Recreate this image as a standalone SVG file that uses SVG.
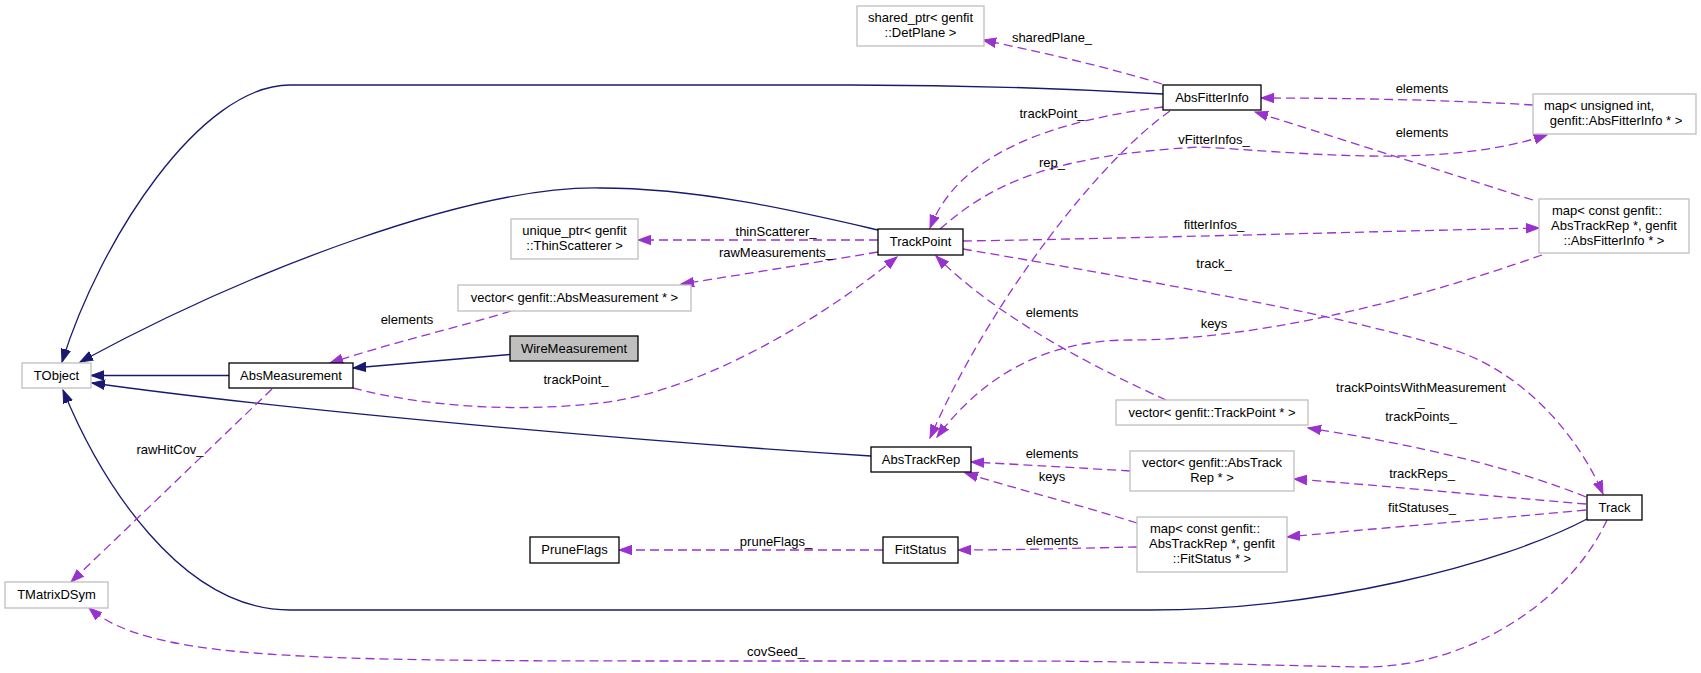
<svg xmlns="http://www.w3.org/2000/svg" width="1701" height="673" viewBox="0 0 1701 673">
<style>
text{font-family:"Liberation Sans",Arial,Helvetica,sans-serif;font-size:13px;fill:#000}
.c{text-anchor:middle}
.n{fill:#fff;stroke:#000;stroke-width:1.3}
.g{fill:#fff;stroke:#bfbfbf;stroke-width:1.3}
.s{fill:#bfbfbf;stroke:#000;stroke-width:1.3}
.inh{fill:none;stroke:#191970;stroke-width:1.3}
.use{fill:none;stroke:#9a32cd;stroke-width:1.3;stroke-dasharray:9,5}
</style>
<defs>
<marker id="ah" markerUnits="userSpaceOnUse" markerWidth="14" markerHeight="11" viewBox="0 0 14 11" refX="13" refY="5.5" orient="auto"><path d="M0,0.8 L13,5.5 L0,10.2 z" fill="#191970" stroke="#191970" stroke-width="1"/></marker>
<marker id="au" markerUnits="userSpaceOnUse" markerWidth="14" markerHeight="11" viewBox="0 0 14 11" refX="13" refY="5.5" orient="auto"><path d="M0,0.8 L13,5.5 L0,10.2 z" fill="#9a32cd" stroke="#9a32cd" stroke-width="1"/></marker>
</defs>
<rect width="1701" height="673" fill="#fff"/>
<g id="edges">
<path class="inh" marker-end="url(#ah)" d="M229,375.5 L91,375.5"/>
<path class="inh" marker-end="url(#ah)" d="M510,354.5 L353,368"/>
<path class="inh" marker-end="url(#ah)" d="M878,230 C800,212 700,188 600,188 C470,186 250,270 80,362"/>
<path class="inh" marker-end="url(#ah)" d="M1163,94 C1060,88 960,85 850,85 L290,85 C200,85 100,240 62,362"/>
<path class="inh" marker-end="url(#ah)" d="M871,456 C650,442 300,412 92,383"/>
<path class="inh" marker-end="url(#ah)" d="M1587,519 C1500,565 1320,610 1150,610 L290,610 C180,610 100,480 63,390"/>
<path class="use" marker-end="url(#au)" d="M511,311 C460,327 390,343 330,363"/>
<path class="use" marker-end="url(#au)" d="M353,388 C430,408 520,412 600,403 C700,392 820,320 897,257"/>
<path class="use" marker-end="url(#au)" d="M878,240 L638,240"/>
<path class="use" marker-end="url(#au)" d="M878,252 C800,265 740,275 681,284"/>
<path class="use" marker-end="url(#au)" d="M940,229 C990,185 1050,155 1200,147 C1300,152 1440,170 1547,135"/>
<path class="use" marker-end="url(#au)" d="M1163,107 C1060,120 960,150 930,228"/>
<path class="use" marker-end="url(#au)" d="M1170,111 C1100,160 990,300 930,438"/>
<path class="use" marker-end="url(#au)" d="M1542,255 C1400,305 1250,340 1130,340 C1040,340 980,380 937,437"/>
<path class="use" marker-end="url(#au)" d="M1533,200 L1255,112"/>
<path class="use" marker-end="url(#au)" d="M1533,105 C1450,100 1350,98 1261,98"/>
<path class="use" marker-end="url(#au)" d="M963,241 C1150,238 1350,232 1539,228"/>
<path class="use" marker-end="url(#au)" d="M963,249 C1150,281 1360,318 1460,352 C1530,378 1580,440 1603,494"/>
<path class="use" marker-end="url(#au)" d="M1586,497 C1520,470 1420,445 1308,428"/>
<path class="use" marker-end="url(#au)" d="M1586,504 C1500,497 1400,487 1294,479"/>
<path class="use" marker-end="url(#au)" d="M1586,510 C1480,520 1380,528 1287,537"/>
<path class="use" marker-end="url(#au)" d="M1166,400 C1100,370 1000,320 936,256"/>
<path class="use" marker-end="url(#au)" d="M1130,471 C1080,468 1030,465 971,462"/>
<path class="use" marker-end="url(#au)" d="M1137,523 C1080,505 1020,490 965,473"/>
<path class="use" marker-end="url(#au)" d="M1137,547 C1080,548 1020,550 958,550"/>
<path class="use" marker-end="url(#au)" d="M883,550 L619,550"/>
<path class="use" marker-end="url(#au)" d="M272,389 L71,582"/>
<path class="use" marker-end="url(#au)" d="M1607,520 C1570,600 1470,668 1361,667 C1250,665 1150,661 1000,661 L700,661 C300,661 150,660 89,608"/>
<path class="use" marker-end="url(#au)" d="M1162,84 C1100,65 1040,52 983,40"/>
<text class="c" x="1052" y="42">sharedPlane_</text>
<text class="c" x="1052" y="118">trackPoint_</text>
<text class="c" x="1214" y="144">vFitterInfos_</text>
<text class="c" x="1052" y="167">rep_</text>
<text class="c" x="776" y="236">thinScatterer_</text>
<text class="c" x="776" y="257">rawMeasurements_</text>
<text class="c" x="1214" y="229">fitterInfos_</text>
<text class="c" x="1214" y="268">track_</text>
<text class="c" x="1052" y="317">elements</text>
<text class="c" x="1214" y="328">keys</text>
<text class="c" x="407" y="324">elements</text>
<text class="c" x="576" y="384">trackPoint_</text>
<text class="c" x="170" y="454">rawHitCov_</text>
<text class="c" x="1422" y="93">elements</text>
<text class="c" x="1422" y="137">elements</text>
<text class="c" x="1421" y="392">trackPointsWithMeasurement</text>
<text class="c" x="1421" y="406">_</text>
<text class="c" x="1421" y="421">trackPoints_</text>
<text class="c" x="1422" y="478">trackReps_</text>
<text class="c" x="1422" y="512">fitStatuses_</text>
<text class="c" x="1052" y="458">elements</text>
<text class="c" x="1052" y="481">keys</text>
<text class="c" x="1052" y="545">elements</text>
<text class="c" x="776" y="546">pruneFlags_</text>
<text class="c" x="776" y="656">covSeed_</text>
</g>
<g id="node-TObject"><rect class="g" x="22" y="363" width="69" height="25"/><text class="c" x="56.5" y="380">TObject</text></g>
<g id="node-AbsMeasurement"><rect class="n" x="229" y="363" width="124" height="25"/><text class="c" x="291" y="380">AbsMeasurement</text></g>
<g id="node-WireMeasurement"><rect class="s" x="510" y="336" width="128" height="25"/><text class="c" x="574" y="353">WireMeasurement</text></g>
<g id="node-vecAbsMeasurement"><rect class="g" x="458" y="285" width="233" height="26"/><text class="c" x="574.5" y="302">vector&lt; genfit::AbsMeasurement * &gt;</text></g>
<g id="node-uniqueThinScatterer"><rect class="g" x="511" y="219" width="127" height="40"/><text class="c" x="574.5" y="235">unique_ptr&lt; genfit</text><text class="c" x="574.5" y="250">::ThinScatterer &gt;</text></g>
<g id="node-TMatrixDSym"><rect class="g" x="5" y="582" width="103" height="26"/><text class="c" x="56.5" y="599">TMatrixDSym</text></g>
<g id="node-PruneFlags"><rect class="n" x="530" y="537" width="89" height="26"/><text class="c" x="574.5" y="554">PruneFlags</text></g>
<g id="node-sharedDetPlane"><rect class="g" x="857" y="6" width="127" height="40"/><text class="c" x="920.5" y="22">shared_ptr&lt; genfit</text><text class="c" x="920.5" y="37">::DetPlane &gt;</text></g>
<g id="node-TrackPoint"><rect class="n" x="878" y="229" width="85" height="26"/><text class="c" x="920.5" y="246">TrackPoint</text></g>
<g id="node-AbsTrackRep"><rect class="n" x="871" y="447" width="100" height="25"/><text class="c" x="921" y="464">AbsTrackRep</text></g>
<g id="node-FitStatus"><rect class="n" x="883" y="537" width="75" height="26"/><text class="c" x="920.5" y="554">FitStatus</text></g>
<g id="node-AbsFitterInfo"><rect class="n" x="1163" y="85" width="98" height="25"/><text class="c" x="1212" y="102">AbsFitterInfo</text></g>
<g id="node-vecTrackPoint"><rect class="g" x="1116" y="400" width="192" height="25"/><text class="c" x="1212" y="417">vector&lt; genfit::TrackPoint * &gt;</text></g>
<g id="node-vecAbsTrackRep"><rect class="g" x="1130" y="451" width="164" height="40"/><text class="c" x="1212" y="467">vector&lt; genfit::AbsTrack</text><text class="c" x="1212" y="482">Rep * &gt;</text></g>
<g id="node-mapFitStatus"><rect class="g" x="1137" y="517" width="150" height="55"/><text class="c" x="1205" y="533">map&lt; const genfit::</text><text class="c" x="1212" y="548">AbsTrackRep *, genfit</text><text class="c" x="1212" y="563">::FitStatus * &gt;</text></g>
<g id="node-mapUIntFitterInfo"><rect class="g" x="1533" y="94" width="163" height="40"/><text class="c" x="1599" y="110">map&lt; unsigned int,</text><text class="c" x="1616" y="125">genfit::AbsFitterInfo * &gt;</text></g>
<g id="node-mapRepFitterInfo"><rect class="g" x="1539" y="199" width="150" height="54"/><text class="c" x="1607" y="215">map&lt; const genfit::</text><text class="c" x="1614" y="230">AbsTrackRep *, genfit</text><text class="c" x="1614" y="245">::AbsFitterInfo * &gt;</text></g>
<g id="node-Track"><rect class="n" x="1587" y="495" width="55" height="25"/><text class="c" x="1614.5" y="512">Track</text></g>
</svg>
